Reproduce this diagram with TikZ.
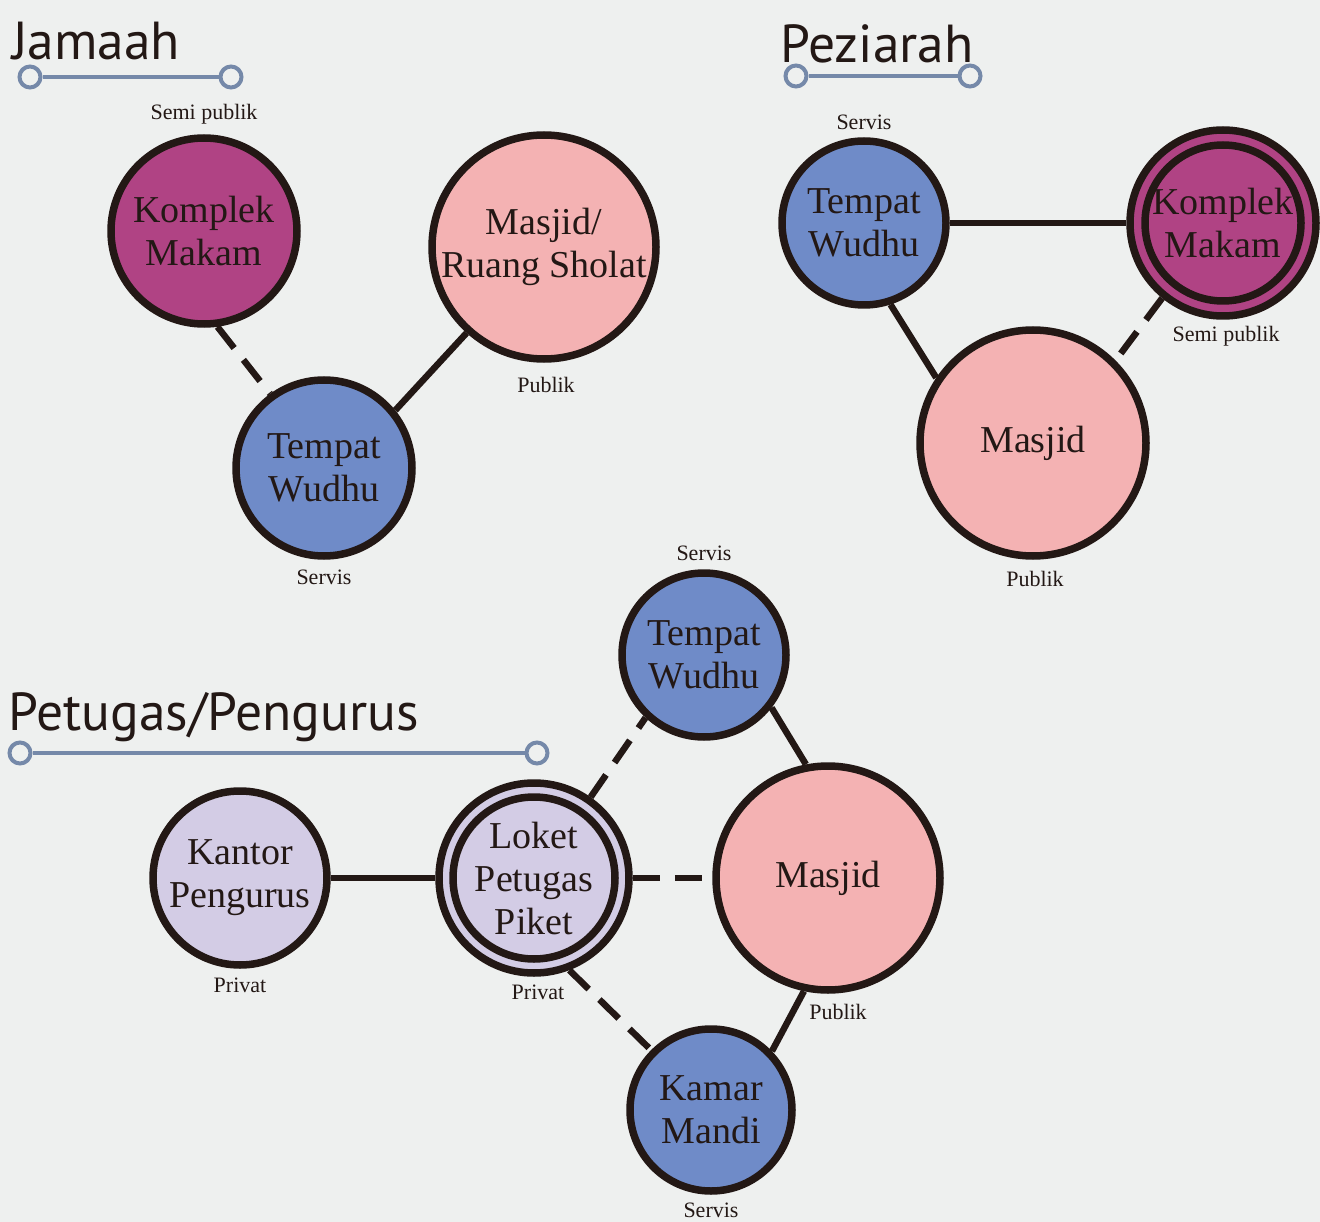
\documentclass[tikz,border=0pt]{standalone}
\usepackage{fontspec}
\setmainfont{Liberation Serif}
\newfontfamily\titlefont{PT Sans}
\definecolor{bgc}{HTML}{EEF0EF}
\definecolor{ink}{HTML}{231815}
\definecolor{mag}{HTML}{B04384}
\definecolor{pinkc}{HTML}{F4B2B3}
\definecolor{bluec}{HTML}{6F8BC8}
\definecolor{lav}{HTML}{D3CCE5}
\definecolor{scalec}{HTML}{7589A9}
\tikzset{
  room/.style={circle, draw=ink, line width=7.5pt, inner sep=0pt, align=center,
    text=ink, font=\fontsize{38}{43}\selectfont},
  ring/.style={draw=ink, line width=7.5pt},
  lbl/.style={text=ink, font=\fontsize{22}{24}\selectfont, inner sep=0pt},
  ttl/.style={text=ink, font=\titlefont\fontsize{53.5}{56}\selectfont, inner sep=0pt, anchor=base west},
  scaleline/.style={draw=scalec, line width=4pt},
  scaledot/.style={circle, draw=scalec, line width=4pt, fill=bgc, minimum size=21pt, inner sep=0pt},
  solidc/.style={draw=ink, line width=6.5pt},
  dashc/.style={draw=ink, line width=6.5pt, dash pattern=on 27pt off 15pt},
}
\begin{document}
\begin{tikzpicture}[x=1pt, y=-1pt]
\fill[bgc] (0,0) rectangle (1320,1222);
\useasboundingbox (0,0) rectangle (1320,1222);

% ---------- Jamaah ----------
\node[ttl] (tJ) at (12,60) {Jamaah};
\node[scaledot] (jsa) at (30,77) {};
\node[scaledot] (jsb) at (231,77) {};
\draw[scaleline] (jsa) -- (jsb);

\node[room, fill=mag, minimum size=186pt] (jK) at (204,231) {Komplek\\Makam};
\node[room, fill=pinkc, minimum size=224pt] (jM) at (544,247) {Masjid/\\Ruang Sholat};
\node[room, fill=bluec, minimum size=176pt] (jW) at (324,468) {Tempat\\Wudhu};
\node[lbl] (jKl) at (204,114) {Semi publik};
\node[lbl] (jMl) at (546,385) {Publik};
\node[lbl] (jWl) at (324,577) {Servis};
\draw[dashc] (jK.-82) -- (jW.126);
\draw[solidc] (jW.39) -- (jM.-132);

% ---------- Peziarah ----------
\node[ttl] (tP) at (780,63) {Peziarah};
\node[scaledot] (psa) at (796,76) {};
\node[scaledot] (psb) at (970,76) {};
\draw[scaleline] (psa) -- (psb);

\node[room, fill=bluec, minimum size=164pt] (pW) at (864,223) {Tempat\\Wudhu};
\node[room, fill=mag, minimum size=186pt] (pK) at (1223,223) {};
\draw[ring] (pK.center) circle (78pt);
\node[text=ink, font=\fontsize{38}{43}\selectfont, align=center, inner sep=0pt] (pKt) at (pK.center) {Komplek\\Makam};
\node[room, fill=pinkc, minimum size=226pt] (pM) at (1033,443) {Masjid};
\node[lbl] (pWl) at (864,122) {Servis};
\node[lbl] (pKl) at (1226,336) {Semi publik};
\node[lbl] (pMl) at (1035,579) {Publik};
\draw[solidc] (pW.0) -- (pK.180);
\draw[solidc] (pW.-72) -- (pM.146);
\draw[dashc] (pK.-129) -- (pM.45);

% ---------- Petugas/Pengurus ----------
\node[ttl] (tG) at (8,730) {Petugas/Pengurus};
\node[scaledot] (gsa) at (20,753) {};
\node[scaledot] (gsb) at (537,753) {};
\draw[scaleline] (gsa) -- (gsb);

\node[room, fill=lav, minimum size=174pt] (gK) at (240,878) {Kantor\\Pengurus};
\node[room, fill=lav, minimum size=190pt] (gL) at (534,878) {};
\draw[ring] (gL.center) circle (81pt);
\node[text=ink, font=\fontsize{38}{43}\selectfont, align=center, inner sep=0pt] (gLt) at (gL.center) {Loket\\Petugas\\Piket};
\node[room, fill=bluec, minimum size=164pt] (gW) at (704,655) {Tempat\\Wudhu};
\node[room, fill=pinkc, minimum size=224pt] (gM) at (828,878) {Masjid};
\node[room, fill=bluec, minimum size=162pt] (gB) at (711,1110) {Kamar\\Mandi};
\node[lbl] (gKl) at (240,985) {Privat};
\node[lbl] (gLl) at (538,992) {Privat};
\node[lbl] (gWl) at (704,553) {Servis};
\node[lbl] (gMl) at (838,1012) {Publik};
\node[lbl] (gBl) at (711,1210) {Servis};
\draw[solidc] (gK.0) -- (gL.180);
\draw[dashc] (gL.0) -- (gM.180);
\draw[dashc] (gL.55) -- (gW.-133);
\draw[dashc] (gL.-69) -- (gB.135);
\draw[solidc] (gW.-38) -- (gM.101);
\draw[solidc] (gM.-102) -- (gB.44);
\end{tikzpicture}
\end{document}
